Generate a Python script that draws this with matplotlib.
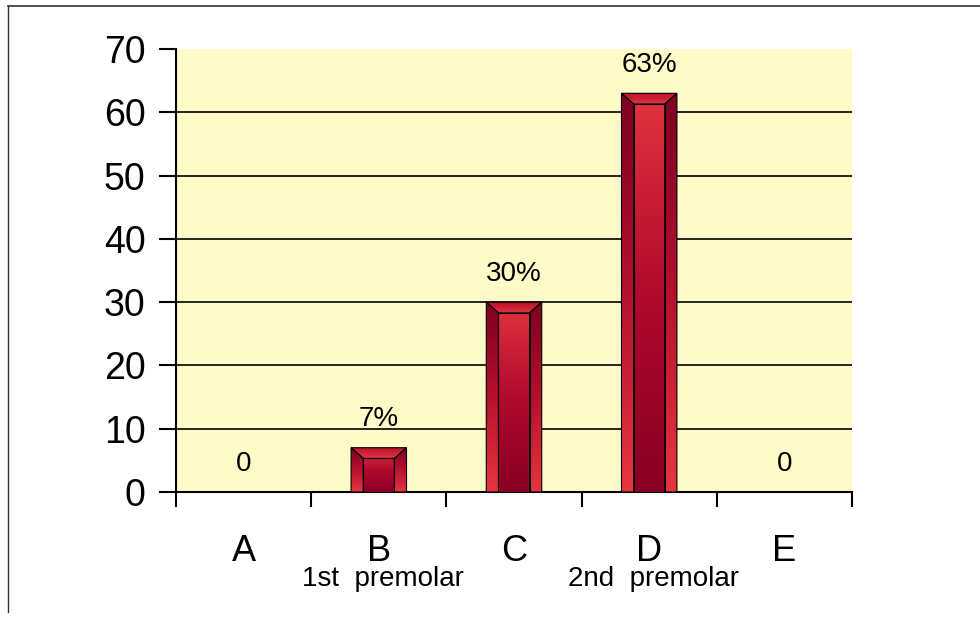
import numpy as np
import matplotlib
matplotlib.use("Agg")
import matplotlib.pyplot as plt
from matplotlib.colors import LinearSegmentedColormap
from matplotlib.patches import Polygon
from matplotlib.lines import Line2D

# chart data
categories = ["A", "B", "C", "D", "E"]
subtitles = ["", "1st  premolar", "", "2nd  premolar", ""]
values = [0, 7, 30, 63, 0]
value_labels = ["0", "7%", "30%", "63%", "0"]
yticks = [0, 10, 20, 30, 40, 50, 60, 70]

plt.rcParams['font.family'] = ['Liberation Sans', 'DejaVu Sans']

fig = plt.figure(figsize=(9.8, 6.18), dpi=100)
ax = fig.add_axes([176 / 980, 1 - 492 / 618, 676 / 980, 443 / 618])
ax.set_facecolor('#fffbc8')

# gradients: sides go dark -> bright downwards, front the other way
side_cmap = LinearSegmentedColormap.from_list("side", ["#e8363f", "#b5112e", "#7e0020"])
front_cmap = LinearSegmentedColormap.from_list("front", ["#8a0024", "#b00a2e", "#e3343e"])
top_cmap = LinearSegmentedColormap.from_list("top", ["#e03440", "#b8102c"])
grad = np.linspace(0, 1, 256).reshape(-1, 1)

width = 0.41
dx = 0.09
dy = 1.7

ax.set_xlim(-0.5, 4.5)
ax.set_ylim(0, 70)

for y in yticks[1:-1]:
    ax.axhline(y, color='black', lw=1.2, zorder=1)


def shaded(poly, cmap, extent):
    patch = Polygon(poly, closed=True, facecolor='none', edgecolor='black', lw=0.8, zorder=4)
    ax.add_patch(patch)
    im = ax.imshow(grad, cmap=cmap, extent=extent, origin='lower', aspect='auto', zorder=3)
    im.set_clip_path(patch)


for i, v in enumerate(values):
    if v > 0:
        x0, x1 = i - width / 2, i + width / 2
        ext = (x0, x1, 0, v)
        shaded([(x0, 0), (x0, v), (x0 + dx, v - dy), (x0 + dx, 0)], side_cmap, ext)
        shaded([(x1, 0), (x1, v), (x1 - dx, v - dy), (x1 - dx, 0)], side_cmap, ext)
        shaded([(x0, v), (x1, v), (x1 - dx, v - dy), (x0 + dx, v - dy)], top_cmap, (x0, x1, v - dy, v))
        shaded([(x0 + dx, 0), (x0 + dx, v - dy), (x1 - dx, v - dy), (x1 - dx, 0)], front_cmap, ext)
    ax.text(i, v + 4.5, value_labels[i], ha='center', va='center',
            fontsize=20, zorder=5)

ax.set_xlim(-0.5, 4.5)
ax.set_ylim(0, 70)

# axes styling
for s in ['top', 'right']:
    ax.spines[s].set_visible(False)
ax.spines['left'].set_linewidth(1.5)
ax.spines['bottom'].set_linewidth(1.5)
ax.set_yticks(yticks)
ax.tick_params(axis='y', labelsize=27, length=12, width=1.5, pad=10)
ax.set_xticks(np.arange(-0.5, 5, 1))
ax.set_xticklabels([])
ax.tick_params(axis='x', length=11, width=1.5)
ax.set_xticks(range(len(categories)), minor=True)
ax.set_xticklabels(categories, minor=True)
ax.tick_params(axis='x', which='minor', length=0, labelsize=26, pad=30)

for i, sub in enumerate(subtitles):
    if sub:
        ax.text(i + 0.03, -13.8, sub, ha='center', va='center', fontsize=20)

# outer frame lines
fig.add_artist(Line2D([8 / 980, 1], [1 - 6 / 618, 1 - 6 / 618], color='#333333', lw=1.2))
fig.add_artist(Line2D([8 / 980, 8 / 980], [1 - 6 / 618, 1 - 612 / 618], color='#333333', lw=1.0))

fig.savefig("out.png", dpi=100)
